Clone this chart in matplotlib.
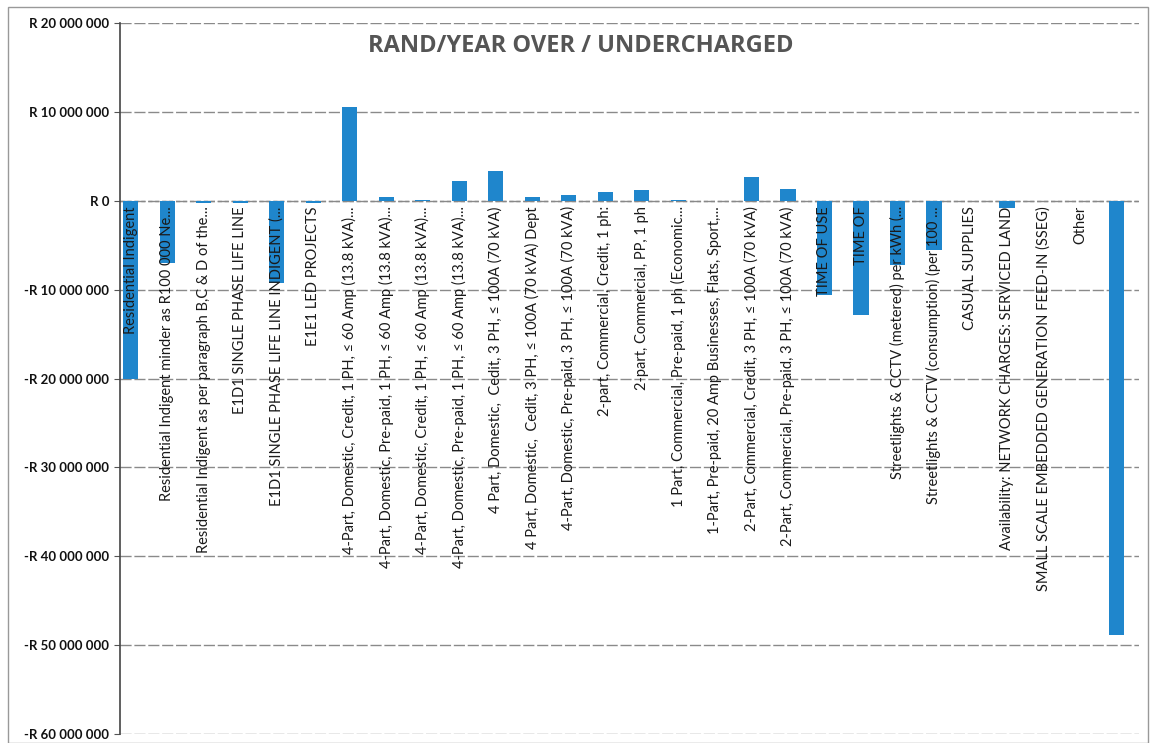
import matplotlib
matplotlib.use("Agg")
import matplotlib.pyplot as plt
from matplotlib.ticker import FuncFormatter
from matplotlib.patches import Rectangle

plt.rcParams["font.family"] = ["Lato", "DejaVu Sans"]

categories = [
    "Residential Indigent",
    "Residential Indigent minder as R100 000 Ne...",
    "Residential Indigent as per paragraph B,C & D of the...",
    "E1D1 SINGLE PHASE LIFE LINE",
    "E1D1 SINGLE PHASE LIFE LINE INDIGENT (...",
    "E1E1 LED PROJECTS",
    "4-Part, Domestic, Credit, 1 PH, \u2264 60 Amp (13.8 kVA)...",
    "4-Part, Domestic, Pre-paid, 1 PH, \u2264 60 Amp (13.8 kVA)...",
    "4-Part, Domestic, Credit, 1 PH, \u2264 60 Amp (13.8 kVA)...",
    "4-Part, Domestic, Pre-paid, 1 PH, \u2264 60 Amp (13.8 kVA)...",
    "4 Part, Domestic,  Cedit, 3 PH, \u2264 100A (70 kVA)",
    "4 Part, Domestic,  Cedit, 3 PH, \u2264 100A (70 kVA) Dept",
    "4-Part, Domestic, Pre-paid, 3 PH, \u2264 100A (70 kVA)",
    "2-part, Commercial, Credit, 1 ph:",
    "2-part, Commercial, PP, 1 ph",
    "1 Part, Commercial, Pre-paid, 1 ph (Economic...",
    "1-Part, Pre-paid, 20 Amp Businesses, Flats, Sport,...",
    "2-Part, Commercial, Credit, 3 PH, \u2264 100A (70 kVA)",
    "2-Part, Commercial, Pre-paid, 3 PH, \u2264 100A (70 kVA)",
    "TIME OF USE",
    "TIME OF",
    "Streetlights & CCTV (metered) per kWh (...",
    "Streetlights & CCTV (consumption) (per 100 ...",
    "CASUAL SUPPLIES",
    "Availability: NETWORK CHARGES: SERVICED LAND",
    "SMALL SCALE EMBEDDED GENERATION FEED-IN (SSEG)",
    "Other",
    "",
]

values = [
    -20.0e6, -7.0e6, -0.3e6, -0.2e6, -9.2e6, -0.3e6, 10.6e6, 0.45e6,
    0.1e6, 2.2e6, 3.4e6, 0.45e6, 0.7e6, 1.0e6, 1.2e6, 0.1e6, 0.0,
    2.7e6, 1.3e6, -10.6e6, -12.8e6, -7.2e6, -5.5e6, 0.0, -0.8e6,
    0.0, 0.0, -48.8e6,
]

y_ticks = [20e6, 10e6, 0, -10e6, -20e6, -30e6, -40e6, -50e6, -60e6]


def rand_fmt(v, pos):
    if v == 0:
        return "R 0"
    s = f"{abs(int(v)):,}".replace(",", " ")
    return ("-R " if v < 0 else "R ") + s


fig = plt.figure(figsize=(11.51, 7.43), dpi=100)
ax = fig.add_axes([0.104, 0.012, 0.886, 0.957])

x = list(range(len(values)))
ax.bar(x, values, width=0.42, color="#1f86cc", zorder=3)

ax.set_xlim(-0.3, len(values) - 0.37)
ax.set_ylim(-60e6, 20e6)
ax.set_yticks(y_ticks)
ax.yaxis.set_major_formatter(FuncFormatter(rand_fmt))
ax.tick_params(axis="y", labelsize=9.5, length=4, color="#555555", labelcolor="#111111")
for lbl in ax.get_yticklabels():
    lbl.set_fontweight("bold")
ax.set_xticks([])
ax.grid(axis="y", color="#8a8a8a", linewidth=1.0, linestyle=(0, (8, 2)), zorder=0)
ax.axhline(0, color="#888888", linewidth=1.0, linestyle=(0, (3, 2)), zorder=2)

for side in ["top", "right", "bottom"]:
    ax.spines[side].set_visible(False)
ax.spines["left"].set_color("#444444")
ax.spines["left"].set_linewidth(1.2)

for xi, name in zip(x, categories):
    if name:
        ax.text(xi, -0.6e6, name, rotation=90, ha="center", va="top",
                fontsize=10.5, color="#1a1a1a", zorder=4)

ax.text(0.452, 0.985, "RAND/YEAR OVER / UNDERCHARGED", transform=ax.transAxes,
        ha="center", va="top", fontsize=17, fontweight="bold", color="#555555",
        family=["Open Sans", "DejaVu Sans"])

fig.patches.append(Rectangle((0.007, 0.0), 0.99, 0.99, transform=fig.transFigure,
                             fill=False, edgecolor="#999999", linewidth=1.0))

fig.savefig("out.png", dpi=100)
